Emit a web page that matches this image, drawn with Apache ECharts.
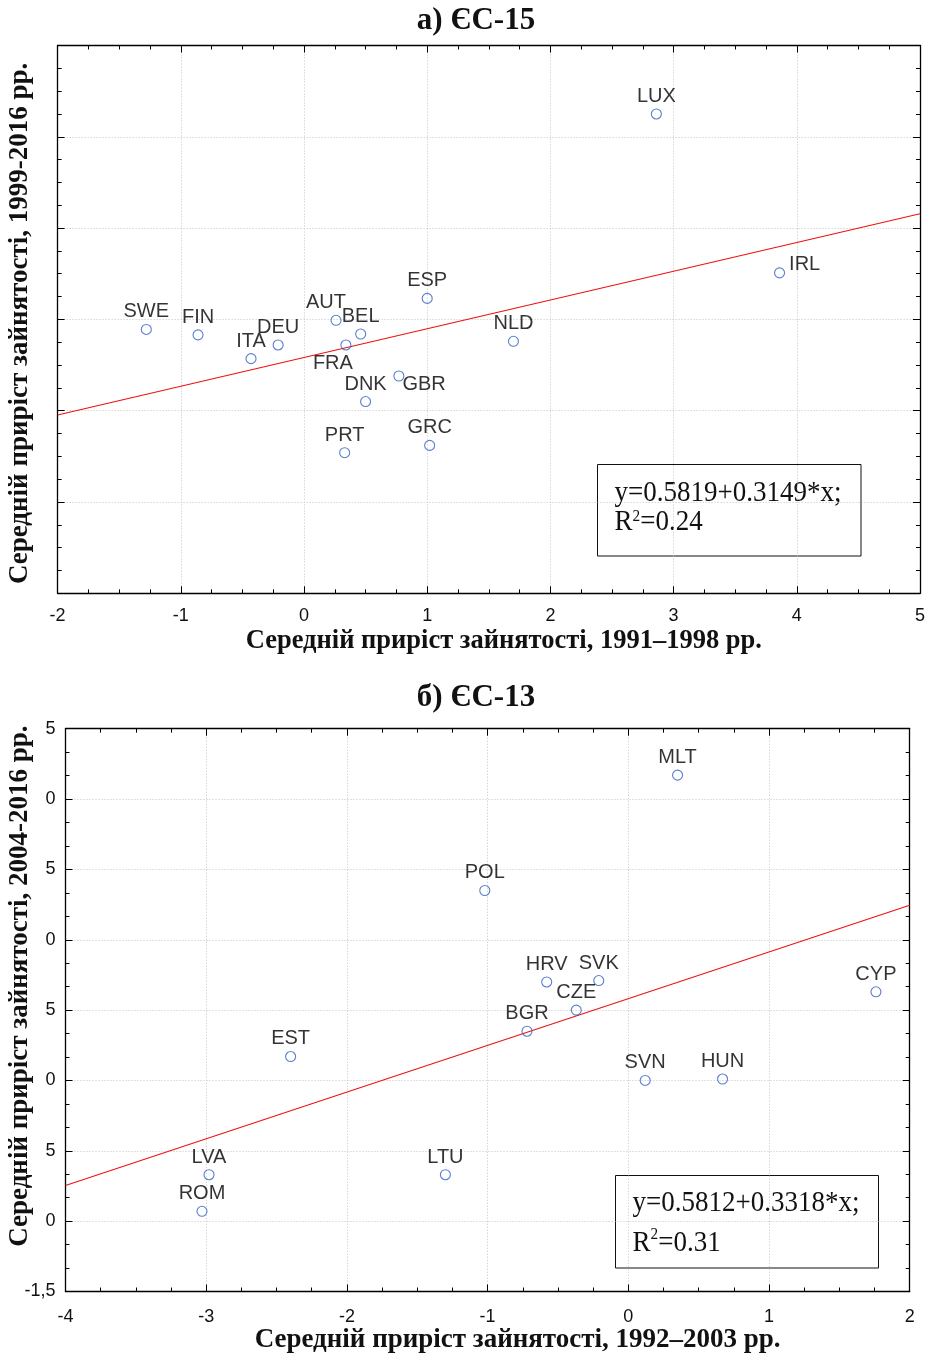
<!DOCTYPE html>
<html>
<head>
<meta charset="utf-8">
<script src="https://cdn.jsdelivr.net/npm/echarts@6/dist/echarts.min.js"></script>
<style>
  html, body { margin: 0; padding: 0; background: #fff; }
  #chart { width: 929px; height: 1355px; }
</style>
</head>
<body>
<div id="chart"></div>
<script>
// ЄС-15: average employment growth, 1991–1998 (x) vs 1999–2016 (y)
const eu15Countries = ['LUX', 'IRL', 'ESP', 'SWE', 'FIN', 'ITA', 'DEU', 'AUT', 'BEL', 'FRA', 'NLD', 'GBR', 'DNK', 'PRT', 'GRC'];
const eu15Growth9198 = [2.86, 3.86, 1.00, -1.28, -0.86, -0.43, -0.21, 0.26, 0.46, 0.34, 1.70, 0.77, 0.50, 0.33, 1.02];
const eu15Growth9916 = [3.25, 1.51, 1.23, 0.89, 0.83, 0.57, 0.72, 0.99, 0.84, 0.72, 0.76, 0.38, 0.10, -0.46, -0.38];
const eu15Fit = [0.5819, 0.3149];   // intercept, slope
const eu15R2 = '0.24';

// ЄС-13: average employment growth, 1992–2003 (x) vs 2004–2016 (y)
const eu13Countries = ['MLT', 'POL', 'HRV', 'SVK', 'CZE', 'BGR', 'CYP', 'SVN', 'HUN', 'EST', 'LVA', 'ROM', 'LTU'];
const eu13Growth9203 = [0.35, -1.02, -0.58, -0.21, -0.37, -0.72, 1.76, 0.12, 0.67, -2.40, -2.98, -3.03, -1.30];
const eu13Growth0416 = [2.17, 1.35, 0.70, 0.71, 0.50, 0.35, 0.63, 0.00, 0.01, 0.17, -0.67, -0.93, -0.67];
const eu13Fit = [0.5812, 0.3318];
const eu13R2 = '0.31';

// axis ranges
const eu15XRange = [-2, 5];
const eu15YRange = [-2, 4];
const eu13XRange = [-4, 2];
const eu13YRange = [-1.5, 2.5];

// label placement tweaks for crowded points
const labelPlacement = {
  IRL: { position: 'right', distance: 4, offset: [0, -8] },
  GBR: { position: 'right', distance: -2, offset: [0, 8] },
  FRA: { position: 'bottom', distance: 3, offset: [-13, 0] },
  AUT: { position: 'top', distance: 2, offset: [-10, 0] }
};

const SANS = '"Liberation Sans", Arial, Helvetica, sans-serif';
const SERIF = '"Liberation Serif", "Times New Roman", Times, serif';
const GRID_COLOR = '#c2c2c2';

function pointData(codes, xs, ys) {
  return codes.map((code, i) => {
    const item = { name: code, value: [xs[i], ys[i]] };
    if (labelPlacement[code]) item.label = Object.assign({}, labelPlacement[code]);
    return item;
  });
}

function fitLine(fit, xr) {
  return xr.map(x => [x, fit[0] + fit[1] * x]);
}

function commaFmt(v) {
  return v.toFixed(1).replace('.', ',');
}

function mainX(gridIndex, range, name, nameCfg) {
  return {
    gridIndex, type: 'value', position: 'bottom',
    min: range[0], max: range[1], interval: 1,
    axisLine: { show: true, onZero: false, lineStyle: { color: '#000', width: 1.3 } },
    axisTick: { show: true, inside: true, length: 7, lineStyle: { color: '#000' } },
    minorTick: { show: true, splitNumber: 4, length: 4, lineStyle: { color: '#000' } },
    splitLine: { show: true, lineStyle: { color: GRID_COLOR, width: 1, type: [1, 2] } },
    axisLabel: { color: '#111', fontSize: 18, fontFamily: SANS, margin: nameCfg.labelMargin },
    name, nameLocation: 'middle', nameGap: nameCfg.gap, nameMoveOverlap: false,
    nameTextStyle: { fontFamily: SERIF, fontWeight: 'bold', fontSize: nameCfg.size, color: '#111', padding: nameCfg.padding }
  };
}

function mirrorX(gridIndex, range) {
  return {
    gridIndex, type: 'value', position: 'top',
    min: range[0], max: range[1], interval: 1,
    axisLine: { show: true, onZero: false, lineStyle: { color: '#000', width: 1.3 } },
    axisTick: { show: true, inside: true, length: 7, lineStyle: { color: '#000' } },
    minorTick: { show: true, splitNumber: 4, length: 4, lineStyle: { color: '#000' } },
    splitLine: { show: false },
    axisLabel: { show: false }
  };
}

function mainY(gridIndex, range, interval, minorSplit, name, nameCfg, labelCfg) {
  return {
    gridIndex, type: 'value', position: 'left',
    min: range[0], max: range[1], interval,
    axisLine: { show: true, onZero: false, lineStyle: { color: '#000', width: 1.3 } },
    axisTick: { show: true, inside: true, length: 7, lineStyle: { color: '#000' } },
    minorTick: { show: true, splitNumber: minorSplit, length: 4, lineStyle: { color: '#000' } },
    splitLine: { show: true, lineStyle: { color: GRID_COLOR, width: 1, type: [1, 2] } },
    axisLabel: labelCfg,
    name, nameLocation: 'middle', nameGap: nameCfg.gap, nameMoveOverlap: false,
    nameTextStyle: { fontFamily: SERIF, fontWeight: 'bold', fontSize: nameCfg.size, color: '#111', padding: nameCfg.padding }
  };
}

function mirrorY(gridIndex, range, interval, minorSplit) {
  return {
    gridIndex, type: 'value', position: 'right',
    min: range[0], max: range[1], interval,
    axisLine: { show: true, onZero: false, lineStyle: { color: '#000', width: 1.3 } },
    axisTick: { show: true, inside: true, length: 7, lineStyle: { color: '#000' } },
    minorTick: { show: true, splitNumber: minorSplit, length: 4, lineStyle: { color: '#000' } },
    splitLine: { show: false },
    axisLabel: { show: false }
  };
}

function scatterSeries(xIdx, yIdx, data) {
  return {
    type: 'scatter', xAxisIndex: xIdx, yAxisIndex: yIdx, z: 3,
    symbol: 'circle', symbolSize: 10,
    itemStyle: { color: 'rgba(255,255,255,0)', borderColor: '#2f5fc0', borderWidth: 1.1 },
    label: {
      show: true, position: 'top', distance: 2,
      formatter: p => p.name,
      color: '#000', fontFamily: SANS, fontSize: 20
    },
    emphasis: { disabled: true },
    data
  };
}

function lineSeries(xIdx, yIdx, data) {
  return {
    type: 'line', xAxisIndex: xIdx, yAxisIndex: yIdx, z: 2,
    symbol: 'none', silent: true,
    lineStyle: { color: '#f01010', width: 1.1 },
    data
  };
}

function equationBox(rect, fit, r2, line1Y, line2Y, supShift) {
  const eq = 'y=' + fit[0].toFixed(4) + '+' + fit[1].toFixed(4) + '*x;';
  return {
    type: 'group', z: 100,
    children: [
      { type: 'rect', shape: { x: rect[0], y: rect[1], width: rect[2], height: rect[3] },
        style: { fill: '#fff', stroke: '#111', lineWidth: 1 } },
      { type: 'text', x: rect[0] + 17, y: line1Y, scaleX: 0.9,
        style: { text: eq, font: '30px ' + SERIF, fill: '#111', verticalAlign: 'middle' } },
      { type: 'text', x: rect[0] + 17, y: line2Y, scaleX: 0.9,
        style: {
          text: '{b|R}{s|2}{b|=' + r2 + '}',
          verticalAlign: 'middle',
          rich: {
            b: { font: '30px ' + SERIF, fill: '#111', lineHeight: 34 },
            s: { font: '17px ' + SERIF, fill: '#111', lineHeight: 34, padding: [0, 0, supShift, 0] }
          }
        } }
    ]
  };
}

const chart = echarts.init(document.getElementById('chart'), null, { renderer: 'canvas' });

const option = {
  animation: false,
  backgroundColor: '#fff',
  title: [
    { text: 'а) ЄС-15', left: 476, top: 5, textAlign: 'center', padding: 0,
      textStyle: { fontFamily: SERIF, fontWeight: 'bold', fontSize: 31, color: '#111' } },
    { text: 'б) ЄС-13', left: 476, top: 682, textAlign: 'center', padding: 0,
      textStyle: { fontFamily: SERIF, fontWeight: 'bold', fontSize: 31, color: '#111' } }
  ],
  grid: [
    { left: 57.6, top: 45.5, width: 862.4, height: 547.8, containLabel: false, outerBoundsMode: 'none' },
    { left: 65.5, top: 728.7, width: 844.2, height: 562.8, containLabel: false, outerBoundsMode: 'none' }
  ],
  xAxis: [
    mainX(0, eu15XRange, 'Середній приріст зайнятості, 1991–1998 рр.', { gap: 34, size: 26.5, padding: [0, 0, 0, 30], labelMargin: 14 }),
    mirrorX(0, eu15XRange),
    mainX(1, eu13XRange, 'Середній приріст зайнятості, 1992–2003 рр.', { gap: 35, size: 27, padding: [0, 0, 0, 60], labelMargin: 17 }),
    mirrorX(1, eu13XRange)
  ],
  yAxis: [
    mainY(0, eu15YRange, 1, 4, 'Середній приріст зайнятості, 1999-2016 рр.',
      { gap: 24, size: 27, padding: [0, 8, 0, 0] }, { show: false }),
    mirrorY(0, eu15YRange, 1, 4),
    mainY(1, eu13YRange, 0.5, 3, 'Середній приріст зайнятості, 2004-2016 рр.',
      { gap: 32, size: 27, padding: [0, 0, 0, 48] },
      { show: true, color: '#111', fontSize: 18, fontFamily: SANS, margin: 10,
        formatter: v => (v === eu13YRange[0] ? commaFmt(v) : commaFmt(v).slice(-1)) }),
    mirrorY(1, eu13YRange, 0.5, 3)
  ],
  series: [
    lineSeries(0, 0, fitLine(eu15Fit, eu15XRange)),
    scatterSeries(0, 0, pointData(eu15Countries, eu15Growth9198, eu15Growth9916)),
    lineSeries(2, 2, fitLine(eu13Fit, eu13XRange)),
    scatterSeries(2, 2, pointData(eu13Countries, eu13Growth9203, eu13Growth0416))
  ],
  graphic: [
    equationBox([597.5, 464.5, 263.5, 91.5], eu15Fit, eu15R2, 493, 522, 10),
    equationBox([615.5, 1175.5, 263, 92.5], eu13Fit, eu13R2, 1203, 1243, 16)
  ]
};

chart.setOption(option);
</script>
</body>
</html>
